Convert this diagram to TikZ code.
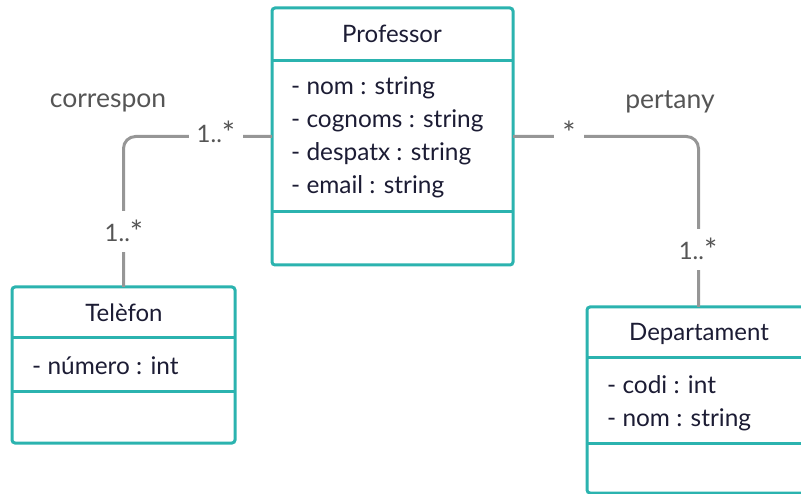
\documentclass[tikz,border=0pt]{standalone}
\usepackage{graphicx}
\usepackage{fontspec}
\setmainfont{Lato}
\definecolor{teal}{RGB}{43,179,175}
\definecolor{ink}{RGB}{28,28,52}
\definecolor{linkgray}{RGB}{150,150,150}
\definecolor{labelgray}{RGB}{85,85,85}
% a slightly enlarged asterisk for the multiplicities
\newcommand{\multstar}{\raisebox{-1.5pt}{\scalebox{1.3}{*}}}
\tikzset{
  classbox/.style={draw=teal, line width=3pt, rounded corners=3pt, fill=white,
    anchor=north west, inner sep=0pt, outer sep=0pt},
  divider/.style={draw=teal, line width=3pt},
  title/.style={font=\fontsize{24}{24}\selectfont, text=ink, anchor=base},
  attr/.style={font=\fontsize{24.4}{24}\selectfont, text=ink, anchor=base west, inner sep=0pt},
  conn/.style={draw=linkgray, line width=3pt, rounded corners=12pt},
  mult/.style={font=\fontsize{24}{24}\selectfont, text=labelgray, fill=white, anchor=base,
    inner xsep=8pt, inner ysep=9pt},
  assoc/.style={font=\fontsize{26.5}{26}\selectfont, text=labelgray, anchor=base},
}
\begin{document}
\begin{tikzpicture}[x=1pt,y=-1pt]
\useasboundingbox (0,0) rectangle (801,494);

% class boxes
\node[classbox, minimum width=241pt, minimum height=257pt] (prof) at (272,8) {};
\node[classbox, minimum width=223pt, minimum height=156pt] (tel) at (12,287) {};
\node[classbox, minimum width=223pt, minimum height=186pt] (dep) at (587,307) {};

% compartment dividers
\draw[divider] (prof.west |- 0,61) -- (prof.east |- 0,61);
\draw[divider] (prof.west |- 0,212) -- (prof.east |- 0,212);
\draw[divider] (tel.west |- 0,338) -- (tel.east |- 0,338);
\draw[divider] (tel.west |- 0,392) -- (tel.east |- 0,392);
\draw[divider] (dep.west |- 0,358) -- (dep.east |- 0,358);
\draw[divider] (dep.west |- 0,443) -- (dep.east |- 0,443);

% Professor
\node[title] (profname) at (392,43) {Professor};
\node[attr] (p1) at (291,95) {- nom : string};
\node[attr] (p2) at (291,128) {- cognoms : string};
\node[attr] (p3) at (291,161) {- despatx : string};
\node[attr] (p4) at (291,194) {- email : string};

% Telèfon
\node[title] (telname) at (124,322) {Telèfon};
\node[attr] (t1) at (32,375) {- número : int};

% Departament
\node[title] (depname) at (699,341) {Departament};
\node[attr] (d1) at (607,393) {- codi : int};
\node[attr] (d2) at (607,427) {- nom : string};

% associations
\draw[conn] (prof.west) -| (tel.north);
\draw[conn] (prof.east) -| (dep.north);

\node[mult] (m1) at (216,143) {1..\multstar};
\node[mult] (m2) at (124,242) {1..\multstar};
\node[mult] (m3) at (569,143) {\multstar};
\node[mult] (m4) at (698,260) {1..\multstar};

\node[assoc] (a1) at (108,108) {correspon};
\node[assoc] (a2) at (670,109) {pertany};
\end{tikzpicture}
\end{document}
